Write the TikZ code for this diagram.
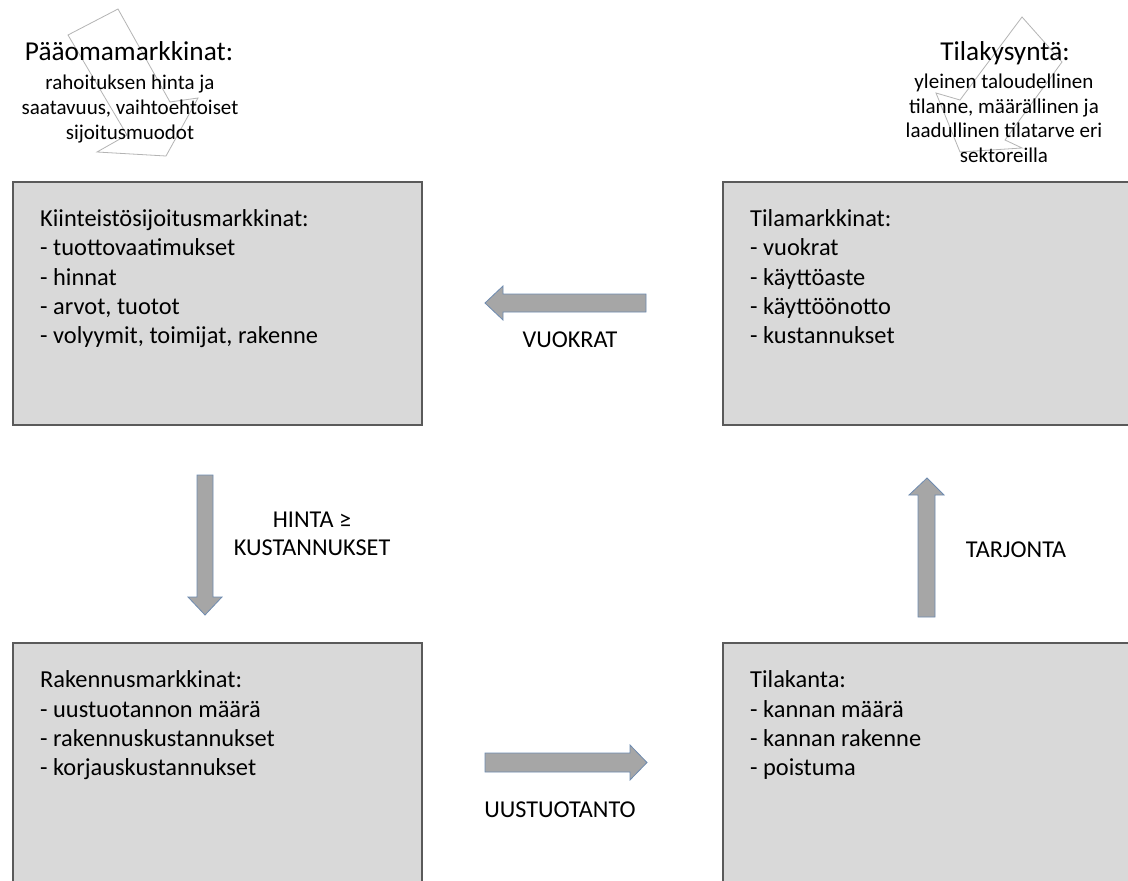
\documentclass[tikz,border=0pt]{standalone}
\usepackage{fontspec}
\setmainfont{Carlito}
\definecolor{boxfill}{HTML}{D9D9D9}
\definecolor{boxline}{HTML}{5A5A5A}
\definecolor{arrowfill}{HTML}{A6A6A6}
\definecolor{arrowline}{HTML}{6E8BB0}
\definecolor{polyline}{HTML}{B4B4B4}
\begin{document}
\begin{tikzpicture}[x=1pt,y=-1pt,
  bigbox/.style={draw=boxline, fill=boxfill, line width=1.6pt, rectangle, inner sep=0pt, anchor=north west},
  boxtxt/.style={anchor=base west, inner sep=0pt, font=\fontsize{24.4}{29}\selectfont},
  lbl/.style={anchor=base, inner sep=0pt, font=\fontsize{24.2}{29}\selectfont},
  ttl/.style={anchor=base, inner sep=0pt, font=\fontsize{27.3}{30}\selectfont},
  sub/.style={anchor=base, inner sep=0pt, font=\fontsize{21}{25}\selectfont},
  blockarrow/.style={fill=arrowfill, draw=arrowline, line width=0.8pt, line join=miter},
  deco/.style={draw=polyline, line width=0.8pt}]
\useasboundingbox (0,0) rectangle (1128,881);
\fill[white] (0,0) rectangle (1128,881);

% decorative outlines
\draw[deco] (68,35) -- (118,9) -- (170,102) -- (198,98) -- (166,156) -- (97,152) -- (127,135) -- cycle;
\draw[deco] (1022,17) -- (1062,62) -- (1005,140) -- (1022,148) -- (960,152) -- (936,93) -- (960,100) -- cycle;

% boxes
\node[bigbox, minimum width=409, minimum height=243] (kv) at (12,181) {};
\node[bigbox, minimum width=430, minimum height=243] (tm) at (722,181) {};
\node[bigbox, minimum width=409, minimum height=260] (rm) at (12,642) {};
\node[bigbox, minimum width=430, minimum height=260] (tk) at (722,642) {};

% box texts
\node[boxtxt] (kv1) at (40,226) {Kiinteistösijoitusmarkkinat:};
\node[boxtxt] (kv2) at (40,255.5) {- tuottovaatimukset};
\node[boxtxt] (kv3) at (40,285) {- hinnat};
\node[boxtxt] (kv4) at (40,314) {- arvot, tuotot};
\node[boxtxt] (kv5) at (40,343) {- volyymit, toimijat, rakenne};

\node[boxtxt] (tm1) at (750,226) {Tilamarkkinat:};
\node[boxtxt] (tm2) at (750,255.5) {- vuokrat};
\node[boxtxt] (tm3) at (750,285) {- käyttöaste};
\node[boxtxt] (tm4) at (750,314) {- käyttöönotto};
\node[boxtxt] (tm5) at (750,343) {- kustannukset};

\node[boxtxt] (rm1) at (40,687) {Rakennusmarkkinat:};
\node[boxtxt] (rm2) at (40,717) {- uustuotannon määrä};
\node[boxtxt] (rm3) at (40,746) {- rakennuskustannukset};
\node[boxtxt] (rm4) at (40,775) {- korjauskustannukset};

\node[boxtxt] (tk1) at (750,687) {Tilakanta:};
\node[boxtxt] (tk2) at (750,717) {- kannan määrä};
\node[boxtxt] (tk3) at (750,746) {- kannan rakenne};
\node[boxtxt] (tk4) at (750,775) {- poistuma};

% titles
\node[ttl] (pt) at (129,60) {Pääomamarkkinat:};
\node[sub] (ps1) at (130,89) {rahoituksen hinta ja};
\node[sub] (ps2) at (130,114) {saatavuus, vaihtoehtoiset};
\node[sub] (ps3) at (130,139) {sijoitusmuodot};

\node[ttl] (tt) at (1005,60) {Tilakysyntä:};
\node[sub] (ts1) at (1004,88) {yleinen taloudellinen};
\node[sub] (ts2) at (1004,113) {tilanne, määrällinen ja};
\node[sub] (ts3) at (1004,137.5) {laadullinen tilatarve eri};
\node[sub] (ts4) at (1004,162) {sektoreilla};

% block arrows
\draw[blockarrow] (646,294) -- (503,294) -- (503,286) -- (485,303) -- (503,320) -- (503,312) -- (646,312) -- cycle;
\draw[blockarrow] (197,475) -- (197,597) -- (188,597) -- (205,615) -- (222,597) -- (213,597) -- (213,475) -- cycle;
\draw[blockarrow] (485,753) -- (630,753) -- (630,745) -- (647,762.5) -- (630,780) -- (630,772) -- (485,772) -- cycle;
\draw[blockarrow] (918,617) -- (918,495) -- (909,495) -- (927,478) -- (944,495) -- (935,495) -- (935,617) -- cycle;

% arrow labels
\node[lbl] (l1) at (570,347) {VUOKRAT};
\node[lbl] (l2) at (312,527) {HINTA ≥};
\node[lbl] (l3) at (312,555) {KUSTANNUKSET};
\node[lbl] (l4) at (560,817) {UUSTUOTANTO};
\node[lbl] (l5) at (1016,557) {TARJONTA};
\end{tikzpicture}
\end{document}
